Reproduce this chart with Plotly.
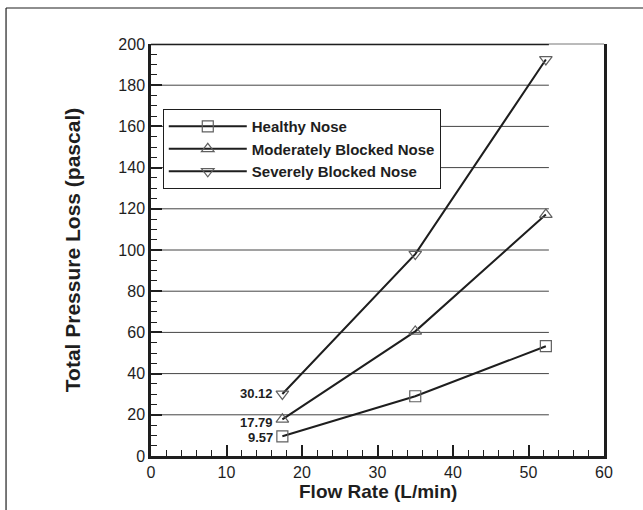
import plotly.graph_objects as go

flow_rate = [17.4, 35.0, 52.3]
healthy = [9.57, 29.0, 53.3]
moderate = [17.79, 60.5, 117.2]
severe = [30.12, 98.0, 192.5]
series_names = ["Healthy Nose", "Moderately Blocked Nose", "Severely Blocked Nose"]
label_texts = ["9.57", "17.79", "30.12"]
x_ticks = [0, 10, 20, 30, 40, 50, 60]
y_ticks = [0, 20, 40, 60, 80, 100, 120, 140, 160, 180, 200]

FONT = "Liberation Sans, Arial, sans-serif"
DARK = "#1e1e1e"
MARK = "#606060"

fig = go.Figure()
symbols = ["square-open", "triangle-up-open", "triangle-down-open"]
for name, ys, sym in zip(series_names, [healthy, moderate, severe], symbols):
    fig.add_trace(go.Scatter(
        x=flow_rate, y=ys, name=name, mode="lines+markers",
        line=dict(color=DARK, width=2),
        marker=dict(symbol=sym, size=11, color=MARK, line=dict(width=1.2, color=MARK)),
    ))

# first-point value labels
first_vals = [healthy[0], moderate[0], severe[0]]
yshifts = [-1, -3, 0]
for txt, v, ys in zip(label_texts, first_vals, yshifts):
    fig.add_annotation(x=flow_rate[0], y=v, text="<b>%s</b>" % txt, showarrow=False,
                       xanchor="right", yanchor="middle", xshift=-7, yshift=ys,
                       font=dict(family=FONT, size=13, color=DARK))

shapes = []
# horizontal grid lines ending at the data extent
grid_end = 52.7
for yv in y_ticks[1:]:
    shapes.append(dict(type="line", xref="x", yref="y", x0=0, x1=grid_end, y0=yv, y1=yv,
                       line=dict(color="#444" if yv < 200 else DARK, width=1 if yv < 200 else 2.5),
                       layer="below"))
# thin top frame
shapes.append(dict(type="line", xref="paper", yref="paper", x0=0, x1=1, y0=1, y1=1,
                   line=dict(color="#777", width=1), layer="below"))
# outer page frame (top and left)
shapes.append(dict(type="line", xref="paper", yref="paper", x0=-0.32, x1=1.2, y0=1.0874, y1=1.0874,
                   line=dict(color=DARK, width=1.2)))
shapes.append(dict(type="line", xref="paper", yref="paper", x0=-0.32, x1=-0.32, y0=-0.2, y1=1.0874,
                   line=dict(color=DARK, width=1.2)))

fig.update_layout(
    width=643, height=510,
    margin=dict(l=151, r=39, t=44, b=54),
    paper_bgcolor="white", plot_bgcolor="white",
    showlegend=True,
    legend=dict(x=0.026, y=0.842, xanchor="left", yanchor="top",
                bgcolor="white", bordercolor=DARK, borderwidth=1,
                font=dict(family=FONT, size=15, color=DARK, weight="bold"),
                itemwidth=78, tracegroupgap=0),
    shapes=shapes,
    font=dict(family=FONT, color=DARK),
)

fig.update_xaxes(range=[0, 60], tickvals=x_ticks, ticktext=[str(t) for t in x_ticks],
                 showgrid=False, zeroline=False,
                 showline=True, linecolor=DARK, linewidth=2.5, mirror=False,
                 ticks="inside", ticklen=11, tickwidth=2, tickcolor=DARK,
                 minor=dict(dtick=2, ticks="inside", ticklen=6, tickwidth=1, tickcolor=DARK),
                 tickfont=dict(family=FONT, size=16, color=DARK))
fig.update_yaxes(range=[0, 200], tickvals=y_ticks, ticktext=[str(t) for t in y_ticks],
                 showgrid=False, zeroline=False,
                 showline=True, linecolor=DARK, linewidth=2.5, mirror=True,
                 ticks="inside", ticklen=11, tickwidth=2, tickcolor=DARK,
                 minor=dict(dtick=5, ticks="inside", ticklen=6, tickwidth=1, tickcolor=DARK),
                 tickfont=dict(family=FONT, size=16, color=DARK))

# axis titles
fig.add_annotation(xref="paper", yref="paper", x=0.5, y=-0.087, text="<b>Flow Rate (L/min)</b>",
                   showarrow=False, xanchor="center", yanchor="middle",
                   font=dict(family=FONT, size=19, color=DARK))
fig.add_annotation(xref="paper", yref="paper", x=-0.174, y=0.5, text="<b>Total Pressure Loss (pascal)</b>",
                   showarrow=False, xanchor="center", yanchor="middle", textangle=-90,
                   font=dict(family=FONT, size=21, color=DARK))

fig.write_html("out.html", config={"displayModeBar": False},
               post_script="document.body.style.margin='0';")
